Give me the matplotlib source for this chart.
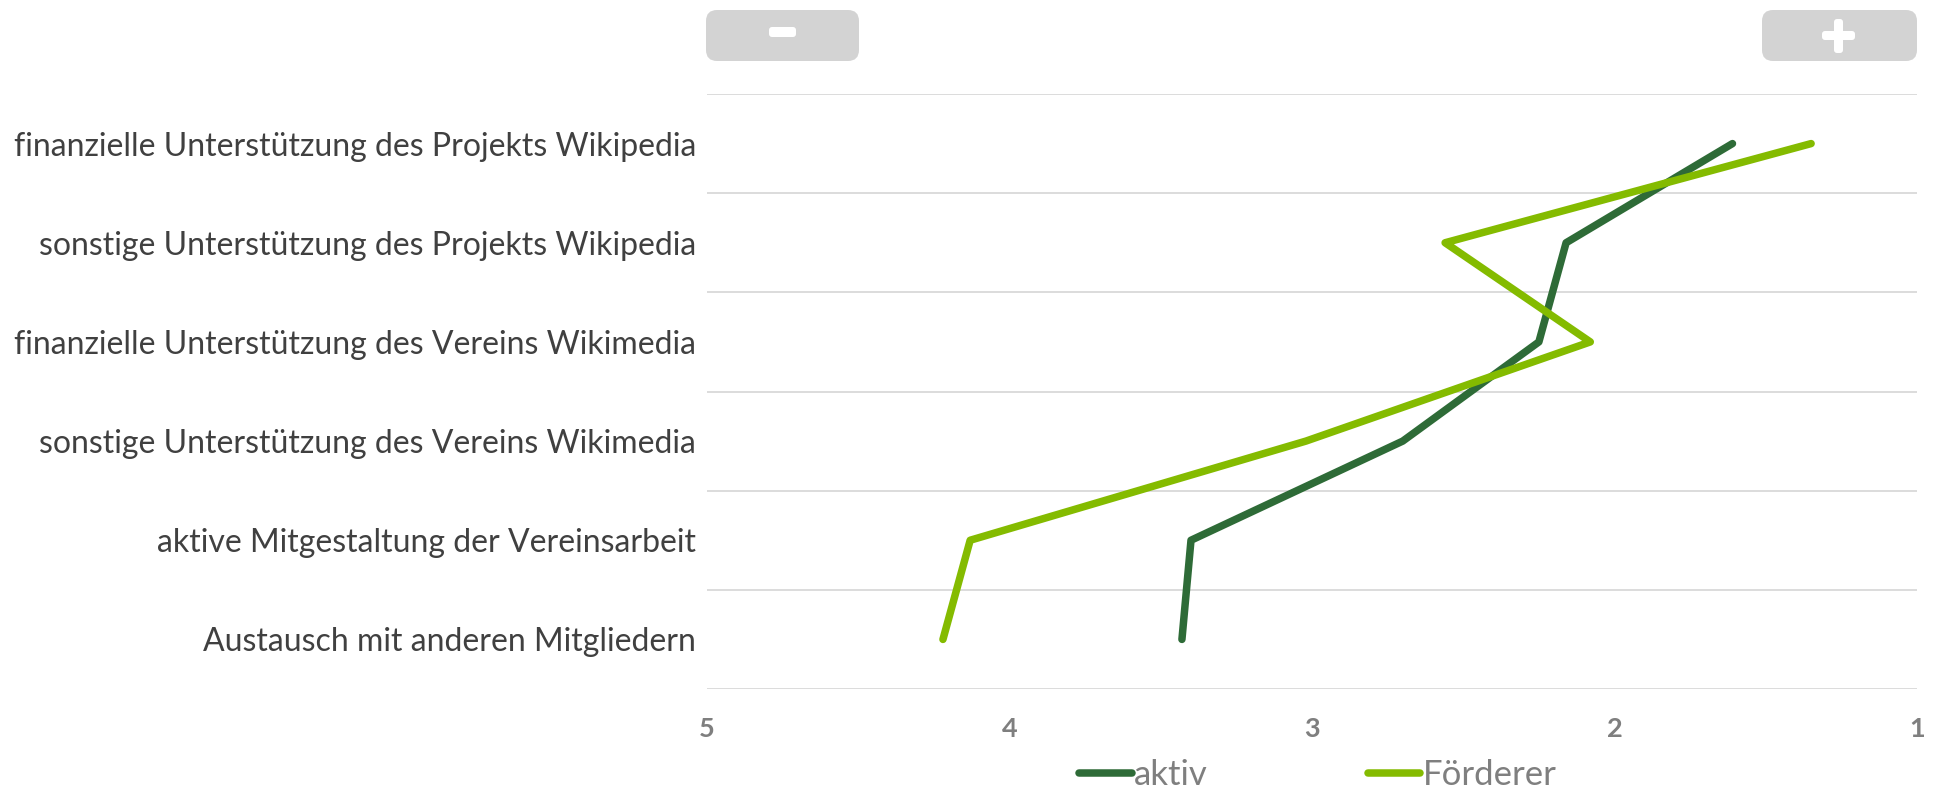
import matplotlib
matplotlib.use("Agg")
import matplotlib.pyplot as plt
from matplotlib.patches import FancyBboxPatch
from matplotlib.lines import Line2D

# Daten
kategorien = [
    "finanzielle Unterstützung des Projekts Wikipedia",
    "sonstige Unterstützung des Projekts Wikipedia",
    "finanzielle Unterstützung des Vereins Wikimedia",
    "sonstige Unterstützung des Vereins Wikimedia",
    "aktive Mitgestaltung der Vereinsarbeit",
    "Austausch mit anderen Mitgliedern",
]
aktiv = [1.61, 2.16, 2.25, 2.70, 3.40, 3.43]
foerderer = [1.35, 2.56, 2.08, 3.02, 4.13, 4.22]
x_ticks = [5, 4, 3, 2, 1]

farbe_aktiv = "#2E6B37"
farbe_foerderer = "#84BB00"
grau_text = "#7F7F7F"

plt.rcParams['font.family'] = ['Lato', 'DejaVu Sans']

W, H = 1939, 794
fig = plt.figure(figsize=(W / 100, H / 100), dpi=100)
ax = fig.add_axes([707 / W, 1 - 689 / H, (1917 - 707) / W, (689 - 94) / H])

y = list(range(len(kategorien)))
for werte, farbe, name in [(aktiv, farbe_aktiv, "aktiv"), (foerderer, farbe_foerderer, "Förderer")]:
    ax.plot(werte, y, color=farbe, lw=5.4, solid_capstyle='round',
            solid_joinstyle='round', label=name, zorder=3)

# Gitterlinien zwischen den Kategorien
for g in range(len(kategorien) + 1):
    ax.axhline(g - 0.5, color="#D9D9D9", lw=1.3, zorder=1)

ax.set_ylim(len(kategorien) - 0.5, -0.5)
ax.set_xlim(5, 1)
ax.set_xticks(x_ticks)
ax.set_xticklabels([str(t) for t in x_ticks], fontsize=19.5, fontweight='bold', color=grau_text)
ax.set_yticks(y)
ax.set_yticklabels(kategorien, fontsize=23, color="#404040")
ax.tick_params(axis='both', length=0)
ax.tick_params(axis='x', pad=20)
ax.tick_params(axis='y', pad=8)
for s in ax.spines.values():
    s.set_visible(False)

# Legende (im Original unten knapp abgeschnitten)
handles = [Line2D([], [], color=farbe_aktiv, lw=5.4, solid_capstyle='round'),
           Line2D([], [], color=farbe_foerderer, lw=5.4, solid_capstyle='round')]
leg = fig.legend(handles, ["aktiv", "Förderer"], loc='center',
                 bbox_to_anchor=(1318 / W, 1 - 775 / H), ncol=2, frameon=False,
                 handlelength=1.5, handletextpad=0.08, columnspacing=4.6,
                 fontsize=25, borderpad=0.1)
for t in leg.get_texts():
    t.set_color(grau_text)

# Zoom-Knöpfe oben
def px_box(x0, y0, x1, y1, farbe, rund):
    return FancyBboxPatch((x0 / W, 1 - y1 / H), (x1 - x0) / W, (y1 - y0) / H,
                          boxstyle="round,pad=0,rounding_size=%f" % (rund / W),
                          transform=fig.transFigure, facecolor=farbe,
                          edgecolor='none', mutation_aspect=W / H)

fig.patches.append(px_box(706, 10, 859, 61, "#D3D3D3", 11))
fig.patches.append(px_box(769, 27, 796, 37, "white", 3))
fig.patches.append(px_box(1762, 10, 1917, 61, "#D3D3D3", 11))
fig.patches.append(px_box(1822, 31, 1855, 40, "white", 3))
fig.patches.append(px_box(1834, 19, 1843, 53, "white", 3))

fig.savefig("out.png", dpi=100)
